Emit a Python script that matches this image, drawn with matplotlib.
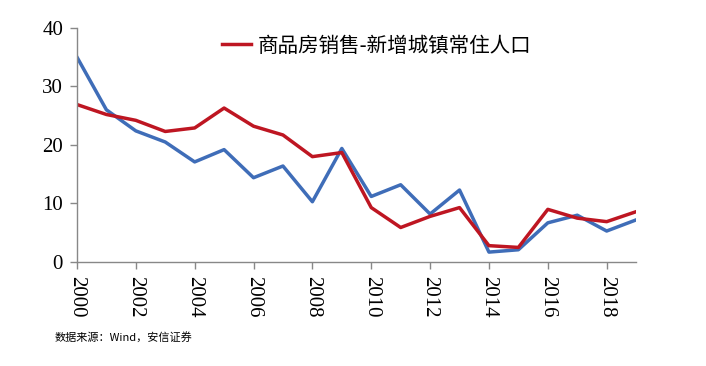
import matplotlib
matplotlib.use('Agg')
import matplotlib.pyplot as plt

plt.rcParams['font.family'] = ['Liberation Serif', 'Noto Sans CJK SC']

years = list(range(2000, 2020))
# 商品房销售-新增城镇常住人口
red_vals = [26.9, 25.2, 24.2, 22.3, 22.9, 26.3, 23.2, 21.7, 18.0, 18.7,
            9.3, 5.9, 7.8, 9.3, 2.8, 2.5, 9.0, 7.5, 6.9, 8.6]
blue_vals = [35.0, 26.0, 22.4, 20.5, 17.1, 19.2, 14.4, 16.4, 10.3, 19.4,
             11.2, 13.2, 8.2, 12.3, 1.7, 2.1, 6.7, 8.0, 5.3, 7.2]
x_ticks = list(range(2000, 2019, 2))
y_ticks = [0, 10, 20, 30, 40]
legend_label = '商品房销售-新增城镇常住人口'
source_text = '数据来源：Wind，安信证券'

fig = plt.figure(figsize=(7.06, 3.66), dpi=100)
ax = fig.add_axes([0.109, 0.284, 0.792, 0.64])

ax.plot(years, blue_vals, color='#3F6DB8', lw=2.5)
ax.plot(years, red_vals, color='#BE1622', lw=2.5, label=legend_label)

ax.set_xlim(2000, 2019)
ax.set_ylim(0, 40)
ax.set_xticks(x_ticks)
ax.set_xticklabels([str(t) for t in x_ticks], rotation=270, fontsize=15)
ax.set_yticks(y_ticks)
ax.set_yticklabels([str(t) for t in y_ticks], fontsize=15)

for s in ['top', 'right']:
    ax.spines[s].set_visible(False)
for s in ['left', 'bottom']:
    ax.spines[s].set_color('#888888')
    ax.spines[s].set_linewidth(1.0)
ax.tick_params(axis='both', colors='#888888', labelcolor='black', length=5, width=1)
ax.tick_params(axis='x', pad=5)
ax.tick_params(axis='y', pad=5)

leg = ax.legend(loc='upper left', bbox_to_anchor=(0.227, 1.05), frameon=False,
                prop={'family': 'Noto Sans CJK SC', 'size': 14.8},
                handlelength=1.4, handletextpad=0.3)

fig.text(0.078, 0.068, source_text, fontsize=8, family='Noto Sans CJK SC')

fig.savefig('out.png', dpi=100)
